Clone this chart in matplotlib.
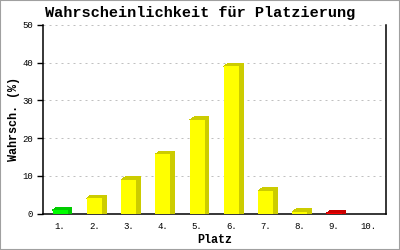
import matplotlib
matplotlib.use("Agg")
import matplotlib.pyplot as plt
from matplotlib.patches import Rectangle

# Daten
plaetze = ["1.", "2.", "3.", "4.", "5.", "6.", "7.", "8.", "9.", "10."]
wahrsch = [0.9, 4.1, 8.9, 15.7, 24.8, 39.0, 6.0, 0.5, 0.1, 0.0]
farben = ["#00ff00", "#ffff00", "#ffff00", "#ffff00", "#ffff00",
          "#ffff00", "#ffff00", "#ffff00", "#ff0000", "#ffff00"]
schatten = ["#00cc00", "#cccc00", "#cccc00", "#cccc00", "#cccc00",
            "#cccc00", "#cccc00", "#cccc00", "#cc0000", "#cccc00"]

plt.rcParams['font.family'] = ['Liberation Mono', 'DejaVu Sans Mono']

fig = plt.figure(figsize=(4, 2.5), dpi=100)
ax = fig.add_axes([0.1075, 0.146, 0.8565, 0.754])

breite = 0.44
dx, dy = 0.12, 0.8   # 3D-Versatz

x = list(range(1, len(plaetze) + 1))
for xi, v, c, s in zip(x, wahrsch, farben, schatten):
    if v <= 0:
        continue
    x0 = xi - breite / 2
    x1 = xi + breite / 2
    # Seite
    ax.fill([x1, x1, x1 + dx, x1 + dx], [0, v, v + dy, 0], color=s,
            lw=0, antialiased=False, zorder=3)
    # Oberseite
    ax.fill([x0, x1, x1 + dx, x0 + dx], [v, v, v + dy, v + dy], color=s,
            lw=0, antialiased=False, zorder=3)
    # Front
    ax.bar(xi, v, width=breite, color=c, lw=0, antialiased=False, zorder=4)

ax.set_xlim(0.5, 10.5)
ax.set_ylim(0, 50)
ax.set_yticks([0, 10, 20, 30, 40, 50])
ax.set_xticks(x)
ax.set_xticklabels(plaetze)

ax.yaxis.grid(True, color="#c0c0c0", lw=0.72, linestyle=(0, (2, 4)), zorder=1)
ax.set_axisbelow(True)

ax.spines['top'].set_visible(False)
for sp in ['left', 'right', 'bottom']:
    ax.spines[sp].set_linewidth(1.1)
ax.tick_params(axis='y', direction='out', length=4, width=1, labelsize=6.5, pad=3)
ax.tick_params(axis='x', length=0, labelsize=6.5, pad=6)

ax.set_xlabel("Platz", fontsize=8.5, fontweight='bold', labelpad=2)
ax.set_ylabel("Wahrsch. (%)", fontsize=8.5, fontweight='bold', labelpad=2)
fig.text(0.5, 0.948, "Wahrscheinlichkeit für Platzierung", ha='center', va='center',
         fontsize=11, fontweight='bold')

# Rahmen
fig.patches.append(Rectangle((0, 0), 1, 1, transform=fig.transFigure, fill=False,
                             edgecolor="#a0a0a0", lw=1.5))

fig.savefig("out.png", dpi=100)
